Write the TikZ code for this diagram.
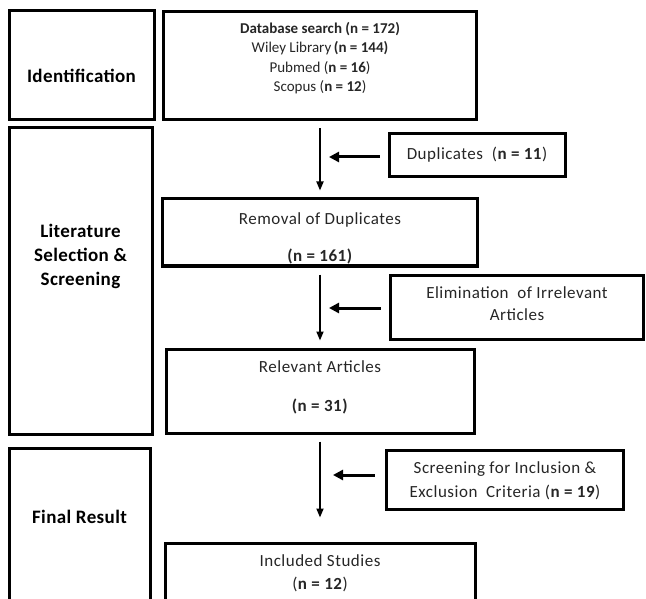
\documentclass[tikz,border=0pt]{standalone}
\usepackage{fontspec}
\setmainfont{Carlito}
\usetikzlibrary{arrows.meta}

\begin{document}
\begin{tikzpicture}[
      x=1pt, y=-1pt,
      box/.style={draw, line width=3pt, inner sep=0pt},
      lbl/.style={font=\fontsize{19}{24}\selectfont\bfseries\addfontfeature{LetterSpace=2}, align=center, text=black},
      txt/.style={font=\fontsize{17}{23}\selectfont\addfontfeature{LetterSpace=3}, align=center, text=black!85},
      src/.style={font=\fontsize{15}{19.5}\selectfont, align=center, text=black!85},
      down/.style={-{Triangle[length=9pt,width=7pt]}, line width=1.8pt, shorten <=7pt, shorten >=7pt},
      back/.style={-{Triangle[length=10pt,width=10pt]}, line width=3pt, shorten <=8pt, shorten >=9pt}]
    \useasboundingbox (0,0) rectangle (646,599);
    \clip (0,0) rectangle (646,599);
    % stage labels
    \node[lbl] (identtxt) at (81.5,76) {Identification};
    \node[lbl] (littxt) at (80.5,256) {Literature\\Selection \&\\Screening};
    \node[lbl] (finaltxt) at (79.5,517) {Final Result};
    % box texts
    \node[src] (dbtxt) at (320,58) {\textbf{Database search (n = 172)}\\Wiley Library\,\textbf{(n = 144)}\\Pubmed (\textbf{n = 16})\\Scopus (\textbf{n = 12})};
    \node[txt] (duptxt) at (477,155) {Duplicates\ \ (\textbf{n = 11})};
    \node[txt] (remtxt) at (320,238.5) {Removal of Duplicates\\[14pt]\textbf{(n = 161)}};
    \node[txt, font=\fontsize{17}{22}\selectfont\addfontfeature{LetterSpace=3}] (elimtxt) at (517,304) {Elimination\ \ of Irrelevant\\Articles};
    \node[txt] (reltxt) at (320,387.5) {Relevant Articles\\[16pt]\textbf{(n = 31)}};
    \node[txt, font=\fontsize{17}{24}\selectfont\addfontfeature{LetterSpace=3}] (scrtxt) at (505,481) {Screening for Inclusion \&\\Exclusion\ \ Criteria (\textbf{n = 19})};
    \node[txt] (inctxt) at (320,573.5) {Included Studies\\(\textbf{n = 12})};
    % frames
    \node[box, minimum width=145, minimum height=109] (ident) at (81.5,65.5) {};
    \node[box, minimum width=313, minimum height=108] (db) at (320,66) {};
    \node[box, minimum width=143, minimum height=306] (lit) at (80.5,281) {};
    \node[box, minimum width=141, minimum height=192] (final) at (79.5,544) {};
    \node[box, minimum width=176, minimum height=43] (dup) at (477,155) {};
    \node[box, minimum width=315, minimum height=67] (rem) at (320,232.5) {};
    \node[box, minimum width=253, minimum height=64] (elim) at (516.5,307) {};
    \node[box, minimum width=308, minimum height=84] (rel) at (320,391) {};
    \node[box, minimum width=237, minimum height=59] (scr) at (504.5,479.5) {};
    \node[box, minimum width=310, minimum height=107] (inc) at (320,596.5) {};
    % flow
    \coordinate (j1) at (320,157);
    \coordinate (j2) at (320,308);
    \coordinate (j3) at (320,475);
    \draw[down] (db) -- (rem);
    \draw[down] (rem) -- (rel);
    \draw[down, shorten >=24pt] (rel) -- (inc);
    \draw[back] (dup.west |- j1) -- (j1);
    \draw[back] (elim.west |- j2) -- (j2);
    \draw[back, shorten <=10pt, shorten >=13pt] (scr.west |- j3) -- (j3);
\end{tikzpicture}
\end{document}
